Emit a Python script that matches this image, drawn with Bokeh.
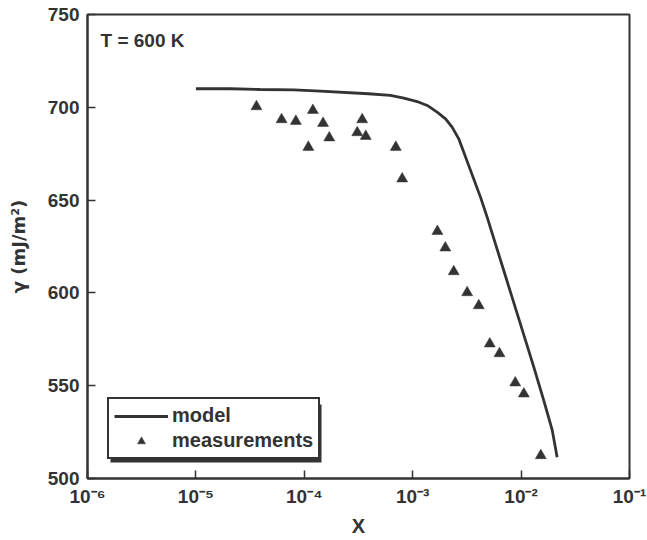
import numpy as np
from bokeh.plotting import figure
from bokeh.models import (FixedTicker, Legend, LegendItem, Label,
                          BoxAnnotation, Range1d)
from bokeh.embed import file_html
from bokeh.resources import INLINE

# Model curve: surface energy vs. composition
model_x = [1.0e-5, 2.1e-5, 3.9e-5, 8.0e-5, 1.41e-4, 3.9e-4, 6.23e-4,
           8.28e-4, 1.10e-3, 1.36e-3, 1.68e-3, 2.01e-3, 2.31e-3, 2.66e-3,
           4.22e-3, 4.86e-3, 1.10e-2, 1.31e-2, 1.62e-2, 1.94e-2, 2.15e-2]
model_y = [710.0, 710.0, 709.6, 709.4, 708.7, 707.3, 706.4,
           704.9, 703.1, 701.0, 697.4, 693.8, 689.3, 683.0,
           651.6, 640.8, 574.3, 560.0, 542.0, 525.9, 511.5]

# Measured values
meas_x = [3.62e-5, 6.17e-5, 8.36e-5, 1.20e-4, 1.49e-4, 1.09e-4, 1.70e-4,
          3.42e-4, 3.08e-4, 3.69e-4, 6.98e-4, 8.0e-4, 1.69e-3, 2.0e-3,
          2.39e-3, 3.18e-3, 4.07e-3, 5.14e-3, 6.32e-3, 8.83e-3, 1.06e-2,
          1.52e-2]
meas_y = [700.4, 693.4, 692.5, 698.4, 691.4, 678.5, 683.6,
          693.4, 686.4, 684.4, 678.5, 661.5, 633.2, 624.3,
          611.5, 600.2, 593.2, 572.6, 567.3, 551.6, 545.6,
          512.4]

x_ticks = [1e-6, 1e-5, 1e-4, 1e-3, 1e-2, 1e-1]
x_tick_labels = ["10\u207b\u2076", "10\u207b\u2075", "10\u207b\u2074",
                 "10\u207b\u00b3", "10\u207b\u00b2", "10\u207b\u00b9"]
y_ticks = [500, 550, 600, 650, 700, 750]

FONT = "Liberation Sans"
INK = "#333333"
X0, X1 = 1e-6, 1e-1
Y0, Y1 = 500, 750
FW, FH = 542, 464


def fx(px):
    """Frame pixel offset from the left edge -> x data value (log)."""
    lo, hi = np.log10(X0), np.log10(X1)
    return 10 ** (lo + px / FW * (hi - lo))


def fy(py):
    """Frame pixel offset from the top edge -> y data value."""
    return Y1 - py / FH * (Y1 - Y0)


p = figure(width=647, height=540, x_axis_type="log",
           x_range=Range1d(X0, X1), y_range=Range1d(Y0, Y1),
           output_backend="svg", toolbar_location=None,
           min_border_left=87, min_border_right=18,
           min_border_top=14, min_border_bottom=62)
p.background_fill_color = "white"
p.border_fill_color = "white"
p.grid.visible = False
p.outline_line_color = INK
p.outline_line_width = 2

p.xaxis.ticker = FixedTicker(ticks=x_ticks, minor_ticks=[])
p.xaxis.major_label_overrides = dict(zip(x_ticks, x_tick_labels))
p.yaxis.ticker = FixedTicker(ticks=y_ticks, minor_ticks=[])

for ax in (p.xaxis, p.yaxis):
    ax.axis_line_color = INK
    ax.axis_line_width = 2
    ax.major_tick_line_color = INK
    ax.major_tick_line_width = 1.5
    ax.major_tick_in = 8
    ax.major_tick_out = 0
    ax.minor_tick_line_color = None
    ax.major_label_text_font = FONT
    ax.major_label_text_font_style = "bold"
    ax.major_label_text_font_size = "19px"
    ax.major_label_text_color = INK
    ax.axis_label_text_font = FONT
    ax.axis_label_text_font_style = "bold"
    ax.axis_label_text_font_size = "20px"
    ax.axis_label_text_color = INK

p.xaxis.axis_label = "X"
p.xaxis.major_label_standoff = 7
p.xaxis.axis_label_standoff = 5
p.yaxis.axis_label = "\u03b3 (mJ/m\u00b2)"
p.yaxis.axis_label_text_font = "DejaVu Sans"
p.yaxis.axis_label_text_font_size = "18px"
p.yaxis.major_label_standoff = 8
p.yaxis.axis_label_standoff = 16

r_model = p.line(model_x, model_y, line_width=2.8, line_color=INK)
r_meas = p.scatter(meas_x, meas_y, marker="triangle", size=11,
                   fill_color=INK, line_color=INK, line_width=0.5)

p.add_layout(Label(x=fx(13), y=fy(26), text="T = 600 K",
                   text_font=FONT, text_font_style="bold",
                   text_font_size="19px", text_color=INK,
                   text_baseline="middle"))

# drop shadow behind the legend box
p.add_layout(BoxAnnotation(left=fx(23), right=fx(234), top=fy(390),
                           bottom=fy(448), fill_color=INK, fill_alpha=1,
                           line_color=None))

legend = Legend(items=[LegendItem(label="model", renderers=[r_model]),
                       LegendItem(label="measurements", renderers=[r_meas])],
                location=(20, 19), orientation="vertical",
                label_text_font=FONT, label_text_font_style="bold",
                label_text_font_size="20px", label_text_color=INK,
                border_line_color=INK, border_line_width=2,
                border_line_alpha=1,
                background_fill_color="white", background_fill_alpha=1,
                padding=5, spacing=2, margin=0,
                glyph_width=54, glyph_height=20, label_height=22,
                label_standoff=4)
p.add_layout(legend)

open("out.html", "w").write(file_html(p, INLINE))
